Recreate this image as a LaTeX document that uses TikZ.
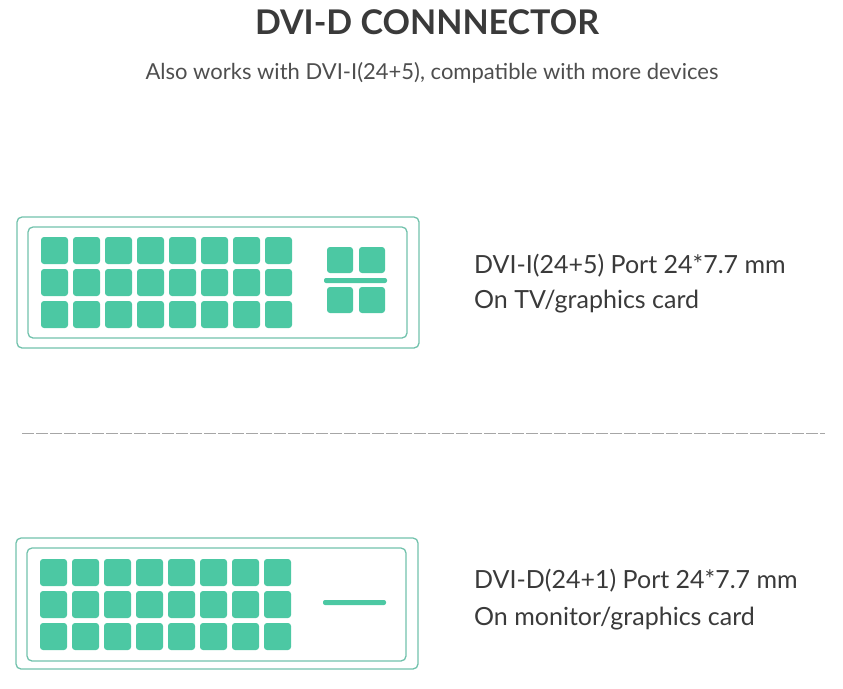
\documentclass[tikz,border=0pt]{standalone}
\usepackage{fontspec}
\setmainfont{Lato}
\begin{document}
\begin{tikzpicture}[x=1pt,y=-1pt,
  pin/.style={fill=pinc,rounded corners=3pt},
  frame/.style={draw=framec,line width=1.3pt,rounded corners=5pt},
  txt/.style={anchor=west,text=textc,font=\fontsize{25}{30}\selectfont,inner sep=0}]
\definecolor{pinc}{HTML}{4CC8A3}
\definecolor{framec}{HTML}{72C2AC}
\definecolor{textc}{HTML}{3A3A3A}
\useasboundingbox (0,0) rectangle (843,688);
\node[font=\bfseries\fontsize{34}{40}\selectfont,text=textc] (title) at (427,22) {DVI-D CONNNECTOR};
\node[font=\fontsize{22}{26}\selectfont,text=textc!90] (sub) at (432,73) {Also works with DVI-I(24+5), compatible with more devices};
% top connector
\draw[frame] (17,217) rectangle (419,348);
\draw[frame] (28,227) rectangle (407,338);
\foreach \i in {0,...,7} \foreach \j in {0,1,2}
  \fill[pin] (41+32*\i,237+32*\j) rectangle ++(27,27);
\foreach \a/\b in {327/247,359/247,327/287,359/287}
  \fill[pin] (\a,\b) rectangle ++(26,26);
\fill[pin,rounded corners=2pt] (324,278) rectangle (387,283);
\node[txt] (t1) at (474,266) {DVI-I(24+5) Port 24*7.7 mm};
\node[txt] (t2) at (474,302) {On TV/graphics card};
% divider
\draw[gray!70,line width=1pt,dash pattern=on 12pt off 2pt] (22,433) -- (825,433);
% bottom connector
\draw[frame] (16,538) rectangle (418,669);
\draw[frame] (27,548) rectangle (406,661);
\foreach \i in {0,...,7} \foreach \j in {0,1,2}
  \fill[pin] (40+32*\i,559+32*\j) rectangle ++(27,27);
\fill[pin,rounded corners=2pt] (323,600) rectangle (386,605);
\node[txt] (t3) at (474,581) {DVI-D(24+1) Port 24*7.7 mm};
\node[txt] (t4) at (474,619) {On monitor/graphics card};
\end{tikzpicture}
\end{document}
